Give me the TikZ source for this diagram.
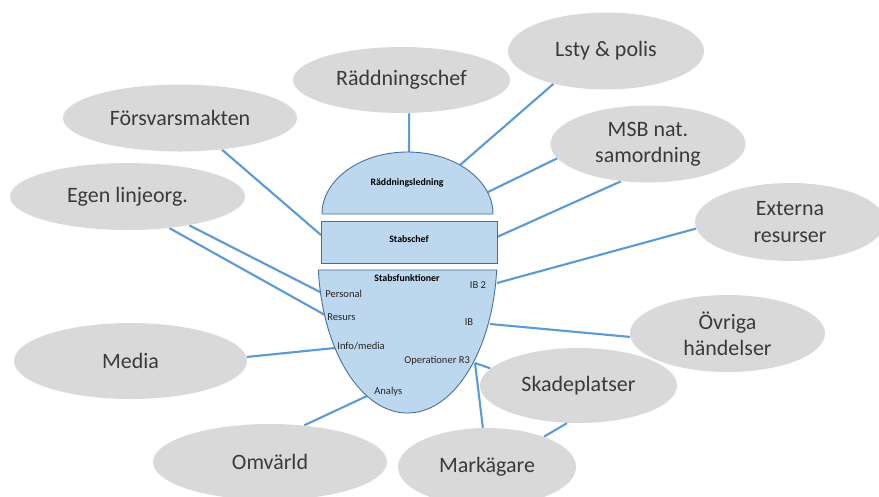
\documentclass[tikz,border=0pt]{standalone}
\usepackage{fontspec}
\setmainfont{Carlito}
\definecolor{cloud}{HTML}{D9D9D9}
\definecolor{cloudtext}{HTML}{3A3A3A}
\definecolor{partblue}{HTML}{BDD7EE}
\definecolor{partedge}{HTML}{41719C}
\definecolor{linkblue}{HTML}{5B9BD5}
\definecolor{tagtext}{HTML}{262626}
\usetikzlibrary{shapes.geometric, backgrounds}
\tikzset{
  bubble/.style={
    ellipse, fill=cloud, inner sep=0pt, text=cloudtext,
    font=\fontsize{12.5}{15}\selectfont, align=center
  },
  part/.style={fill=partblue, draw=partedge, line width=0.5pt},
  tag/.style={inner sep=0pt, text=tagtext, font=\fontsize{6}{7}\selectfont},
  head/.style={inner sep=0pt, text=black, font=\fontsize{5.6}{7}\selectfont\bfseries},
  link/.style={draw=linkblue, line width=1.2pt},
}
\begin{document}
\begin{tikzpicture}
  \useasboundingbox (0,0) rectangle (17.58,-9.92);

  \node[bubble, minimum width=4.68cm, minimum height=1.34cm] (fors) at (3.60,-2.36) {Försvarsmakten};
  \node[bubble, minimum width=4.34cm, minimum height=1.32cm] (radch) at (8.03,-1.60) {Räddningschef};
  \node[bubble, minimum width=3.92cm, minimum height=1.54cm] (lsty) at (12.12,-1.02) {Lsty \& polis};
  \node[bubble, minimum width=3.90cm, minimum height=1.54cm] (msb) at (12.96,-2.88) {MSB nat.\\samordning};
  \node[bubble, minimum width=3.80cm, minimum height=1.56cm] (ext) at (15.80,-4.44) {Externa\\resurser};
  \node[bubble, minimum width=4.70cm, minimum height=1.34cm] (egen) at (2.55,-3.93) {Egen linjeorg.};
  \node[bubble, minimum width=4.66cm, minimum height=1.52cm] (media) at (2.61,-7.22) {Media};
  \node[bubble, minimum width=3.90cm, minimum height=1.54cm] (ovr) at (14.55,-6.67) {Övriga\\händelser};
  \node[bubble, minimum width=3.94cm, minimum height=1.50cm] (skad) at (11.57,-7.71) {Skadeplatser};
  \node[bubble, minimum width=3.56cm, minimum height=1.56cm] (mark) at (9.74,-9.34) {Markägare};
  \node[bubble, minimum width=4.68cm, minimum height=1.52cm] (omv) at (5.40,-9.24) {Omvärld};

  % ledning, stabschef, stabsfunktioner
  \draw[part] (6.44,-4.28) arc[start angle=180, end angle=0, x radius=1.71, y radius=1.24] -- cycle;
  \draw[part] (6.42,-4.42) rectangle (9.94,-5.26);
  \draw[part] (8.15,-5.12) ++(185.1:1.79 and 3.14)
    arc[start angle=185.1, end angle=354.9, x radius=1.79, y radius=3.14] -- cycle;

  \node[head] (ledn) at (8.14,-3.66) {Räddningsledning};
  \node[head] (chef) at (8.18,-4.78) {Stabschef};
  \node[head] (funk) at (8.14,-5.56) {Stabsfunktioner};
  \node[tag] (ibtwo) at (9.56,-5.70) {IB 2};
  \node[tag, anchor=west] (pers) at (6.50,-5.88) {Personal};
  \node[tag, anchor=west] (res) at (6.54,-6.34) {Resurs};
  \node[tag] (ib) at (9.38,-6.44) {IB};
  \node[tag, anchor=west] (info) at (6.74,-6.92) {Info/media};
  \node[tag, anchor=west] (oper) at (8.08,-7.22) {Operationer R3};
  \node[tag, anchor=west] (anal) at (7.48,-7.84) {Analys};

  \coordinate (ledntop) at (8.18,-3.04);
  \coordinate (lednne) at (9.20,-3.30);
  \coordinate (lednea) at (9.76,-3.84);
  \coordinate (chefea) at (9.94,-4.74);
  \coordinate (chefwe) at (6.42,-4.70);
  \coordinate (ibtwoin) at (9.94,-5.66);
  \coordinate (ibin) at (9.80,-6.48);
  \coordinate (operin) at (9.50,-7.26);
  \coordinate (persin) at (6.44,-5.86);
  \coordinate (resin) at (6.50,-6.30);
  \coordinate (infoin) at (6.70,-6.96);
  \coordinate (analin) at (7.34,-7.92);

  \begin{scope}[on background layer]
    \draw[link] (radch.283) -- (ledntop);
    \draw[link] (lsty.212) -- (lednne);
    \draw[link] (msb.189) -- (lednea);
    \draw[link] (msb.234) -- (chefea);
    \draw[link] (fors.323) -- (chefwe);
    \draw[link] (ext.184) -- (ibtwoin);
    \draw[link] (ovr.182) -- (ibin);
    \draw[link] (skad.169) -- (operin);
    \draw[link] (mark.96) -- (operin);
    \draw[link] (skad.253) -- (mark.28);
    \draw[link] (egen.335) -- (persin);
    \draw[link] (egen.323) -- (resin);
    \draw[link] (media.2) -- (infoin);
    \draw[link] (omv.47) -- (analin);
  \end{scope}
\end{tikzpicture}
\end{document}
